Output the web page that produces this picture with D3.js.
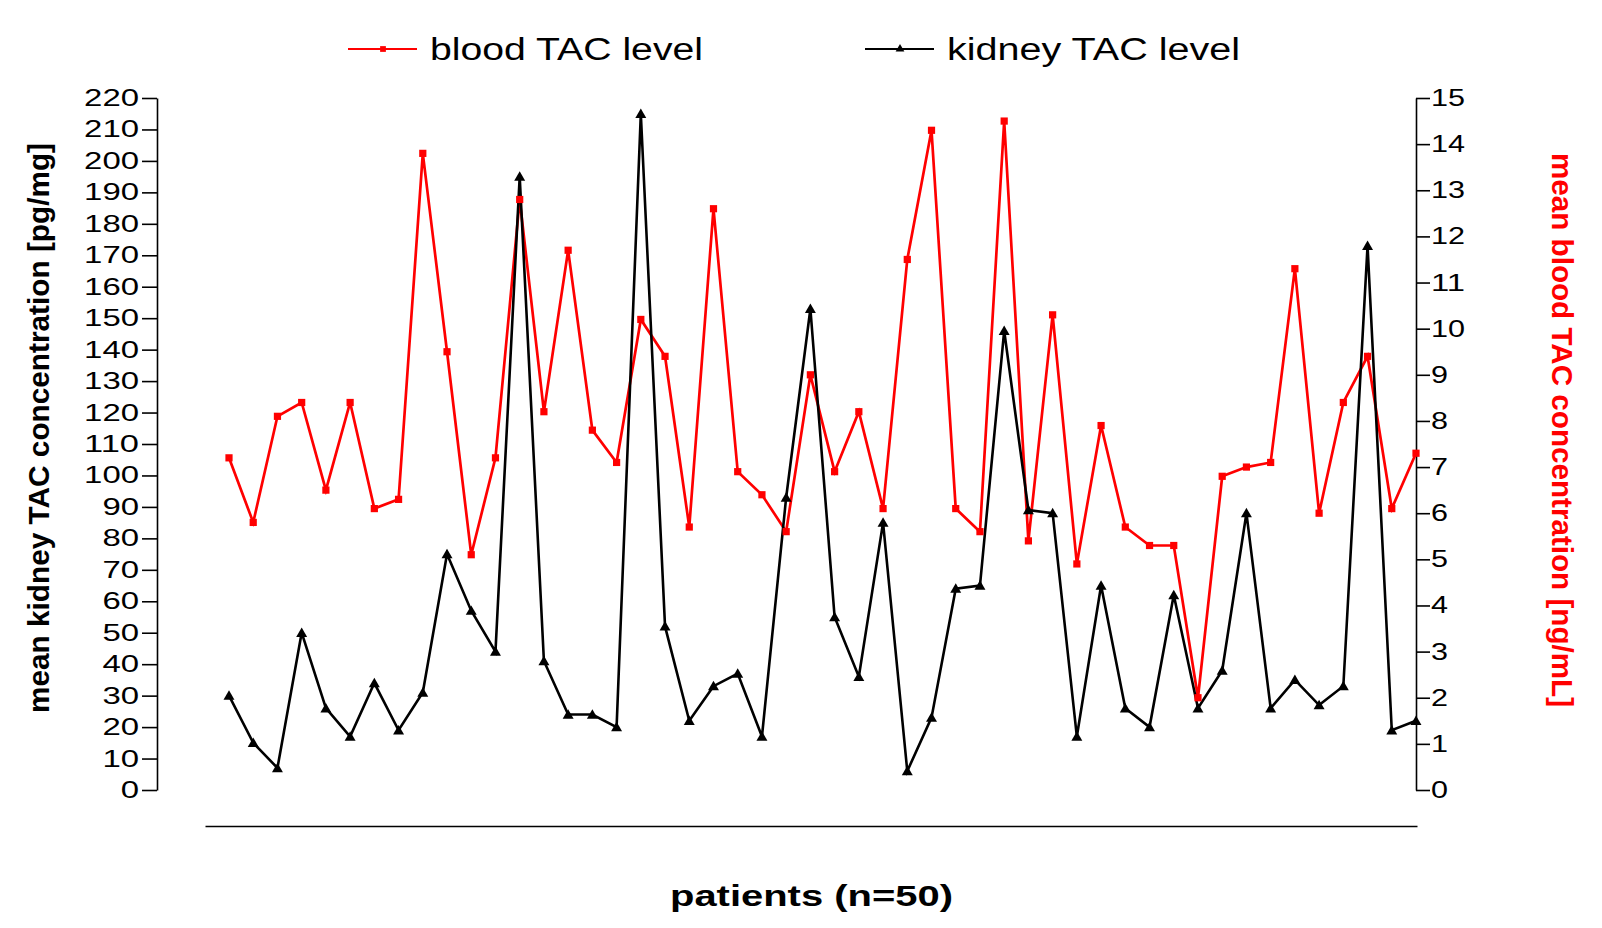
<!DOCTYPE html>
<html><head><meta charset="utf-8">
<script src="https://cdn.jsdelivr.net/npm/d3@7"></script>
<style>body{margin:0;background:#fff}svg{display:block}</style>
</head><body>
<svg id="c" width="1602" height="928"></svg>
<script>
const patients = d3.range(1, 51);
const bloodTAC = [7.2,5.8,8.1,8.4,6.5,8.4,6.1,6.3,13.8,9.5,5.1,7.2,12.8,8.2,11.7,7.8,7.1,10.2,9.4,5.7,
  12.6,6.9,6.4,5.6,9.0,6.9,8.2,6.1,11.5,14.3,6.1,5.6,14.5,5.4,10.3,4.9,7.9,5.7,5.3,5.3,
  2.0,6.8,7.0,7.1,11.3,6.0,8.4,9.4,6.1,7.3];
const kidneyTAC = [30,15,7,50,26,17,34,19,31,75,57,44,195,41,24,24,20,215,52,22,
  33,37,17,93,153,55,36,85,6,23,64,65,146,89,88,17,65,26,20,62,
  26,38,88,26,35,27,33,173,19,22];
const leftTicks = d3.range(0, 221, 10);
const rightTicks = d3.range(0, 16, 1);
const seriesNames = ["blood TAC level", "kidney TAC level"];

const svg = d3.select("#c");
const x = d3.scalePoint().domain(patients).range([229, 1416]);
const yL = d3.scaleLinear().domain([0, 220]).range([790, 98]);
const yR = d3.scaleLinear().domain([0, 15]).range([790, 98]);

const font = "Liberation Sans, Arial, sans-serif";

// left axis
const gl = svg.append("g").attr("transform", "translate(157,0)")
  .call(d3.axisLeft(yL).tickValues(leftTicks).tickSize(15).tickSizeOuter(0).tickPadding(3));
gl.select(".domain").attr("stroke", "#000").attr("stroke-width", 1.6);
gl.selectAll(".tick line").attr("stroke", "#000").attr("stroke-width", 1.6);
gl.selectAll(".tick text").attr("font-family", font).attr("font-size", 23.5).attr("fill", "#000")
  .attr("textLength", d => String(d).length * 18.3).attr("lengthAdjust", "spacingAndGlyphs");

// right axis
const gr = svg.append("g").attr("transform", "translate(1416,0)")
  .call(d3.axisRight(yR).tickValues(rightTicks).tickSize(14).tickSizeOuter(0).tickPadding(1));
gr.select(".domain").attr("stroke", "#000").attr("stroke-width", 1.6);
gr.selectAll(".tick line").attr("stroke", "#000").attr("stroke-width", 1.6);
gr.selectAll(".tick text").attr("font-family", font).attr("font-size", 23.5).attr("fill", "#000")
  .attr("textLength", d => String(d).length * 17).attr("lengthAdjust", "spacingAndGlyphs");

// x axis line (no ticks)
const gx = svg.append("g").attr("transform", "translate(0,826)")
  .call(d3.axisBottom(d3.scaleLinear().range([205, 1417])).tickValues([]).tickSizeOuter(0));
gx.select(".domain").attr("stroke", "#000").attr("stroke-width", 1.6);

// lines
const lineB = d3.line().x((d, i) => x(patients[i])).y(d => yR(d));
const lineK = d3.line().x((d, i) => x(patients[i])).y(d => yL(d));
svg.append("path").datum(bloodTAC).attr("d", lineB).attr("fill", "none").attr("stroke", "#ff0000").attr("stroke-width", 2.7);
svg.append("path").datum(kidneyTAC).attr("d", lineK).attr("fill", "none").attr("stroke", "#000").attr("stroke-width", 2.6);

const sq = d3.symbol().type(d3.symbolSquare).size(52);
const tri = d3.symbol().type(d3.symbolTriangle).size(52);
svg.append("g").selectAll("path").data(bloodTAC).join("path")
  .attr("d", sq).attr("fill", "#ff0000")
  .attr("transform", (d, i) => `translate(${x(patients[i])},${yR(d)})`);
svg.append("g").selectAll("path").data(kidneyTAC).join("path")
  .attr("d", tri).attr("fill", "#000")
  .attr("transform", (d, i) => `translate(${x(patients[i])},${yL(d) + 1})`);

// legend
const leg = [
  {name: seriesNames[0], color: "#ff0000", sym: sq, x0: 348, len: 273},
  {name: seriesNames[1], color: "#000", sym: tri, x0: 865, len: 293}
];
leg.forEach(l => {
  svg.append("line").attr("x1", l.x0).attr("x2", l.x0 + 69).attr("y1", 49).attr("y2", 49)
    .attr("stroke", l.color).attr("stroke-width", 1.8);
  svg.append("path").attr("d", l.sym).attr("fill", l.color).attr("transform", `translate(${l.x0 + 35},49) scale(0.8)`);
  svg.append("text").attr("x", l.x0 + 82).attr("y", 60).attr("font-family", font).attr("font-size", 31)
    .attr("textLength", l.len).attr("lengthAdjust", "spacingAndGlyphs").text(l.name);
});

// axis titles
svg.append("text").attr("transform", "translate(48.5,428) rotate(-90)").attr("text-anchor", "middle")
  .attr("font-family", font).attr("font-weight", "bold").attr("font-size", 30)
  .attr("textLength", 570).attr("lengthAdjust", "spacingAndGlyphs")
  .text("mean kidney TAC concentration [pg/mg]");
svg.append("text").attr("transform", "translate(1552,430) rotate(90)").attr("text-anchor", "middle")
  .attr("font-family", font).attr("font-weight", "bold").attr("font-size", 30).attr("fill", "#ff0000")
  .attr("textLength", 554).attr("lengthAdjust", "spacingAndGlyphs")
  .text("mean blood TAC concentration [ng/mL]");
svg.append("text").attr("x", 811.5).attr("y", 906).attr("text-anchor", "middle")
  .attr("font-family", font).attr("font-weight", "bold").attr("font-size", 30)
  .attr("textLength", 283).attr("lengthAdjust", "spacingAndGlyphs")
  .text("patients (n=50)");
</script>
</body></html>
